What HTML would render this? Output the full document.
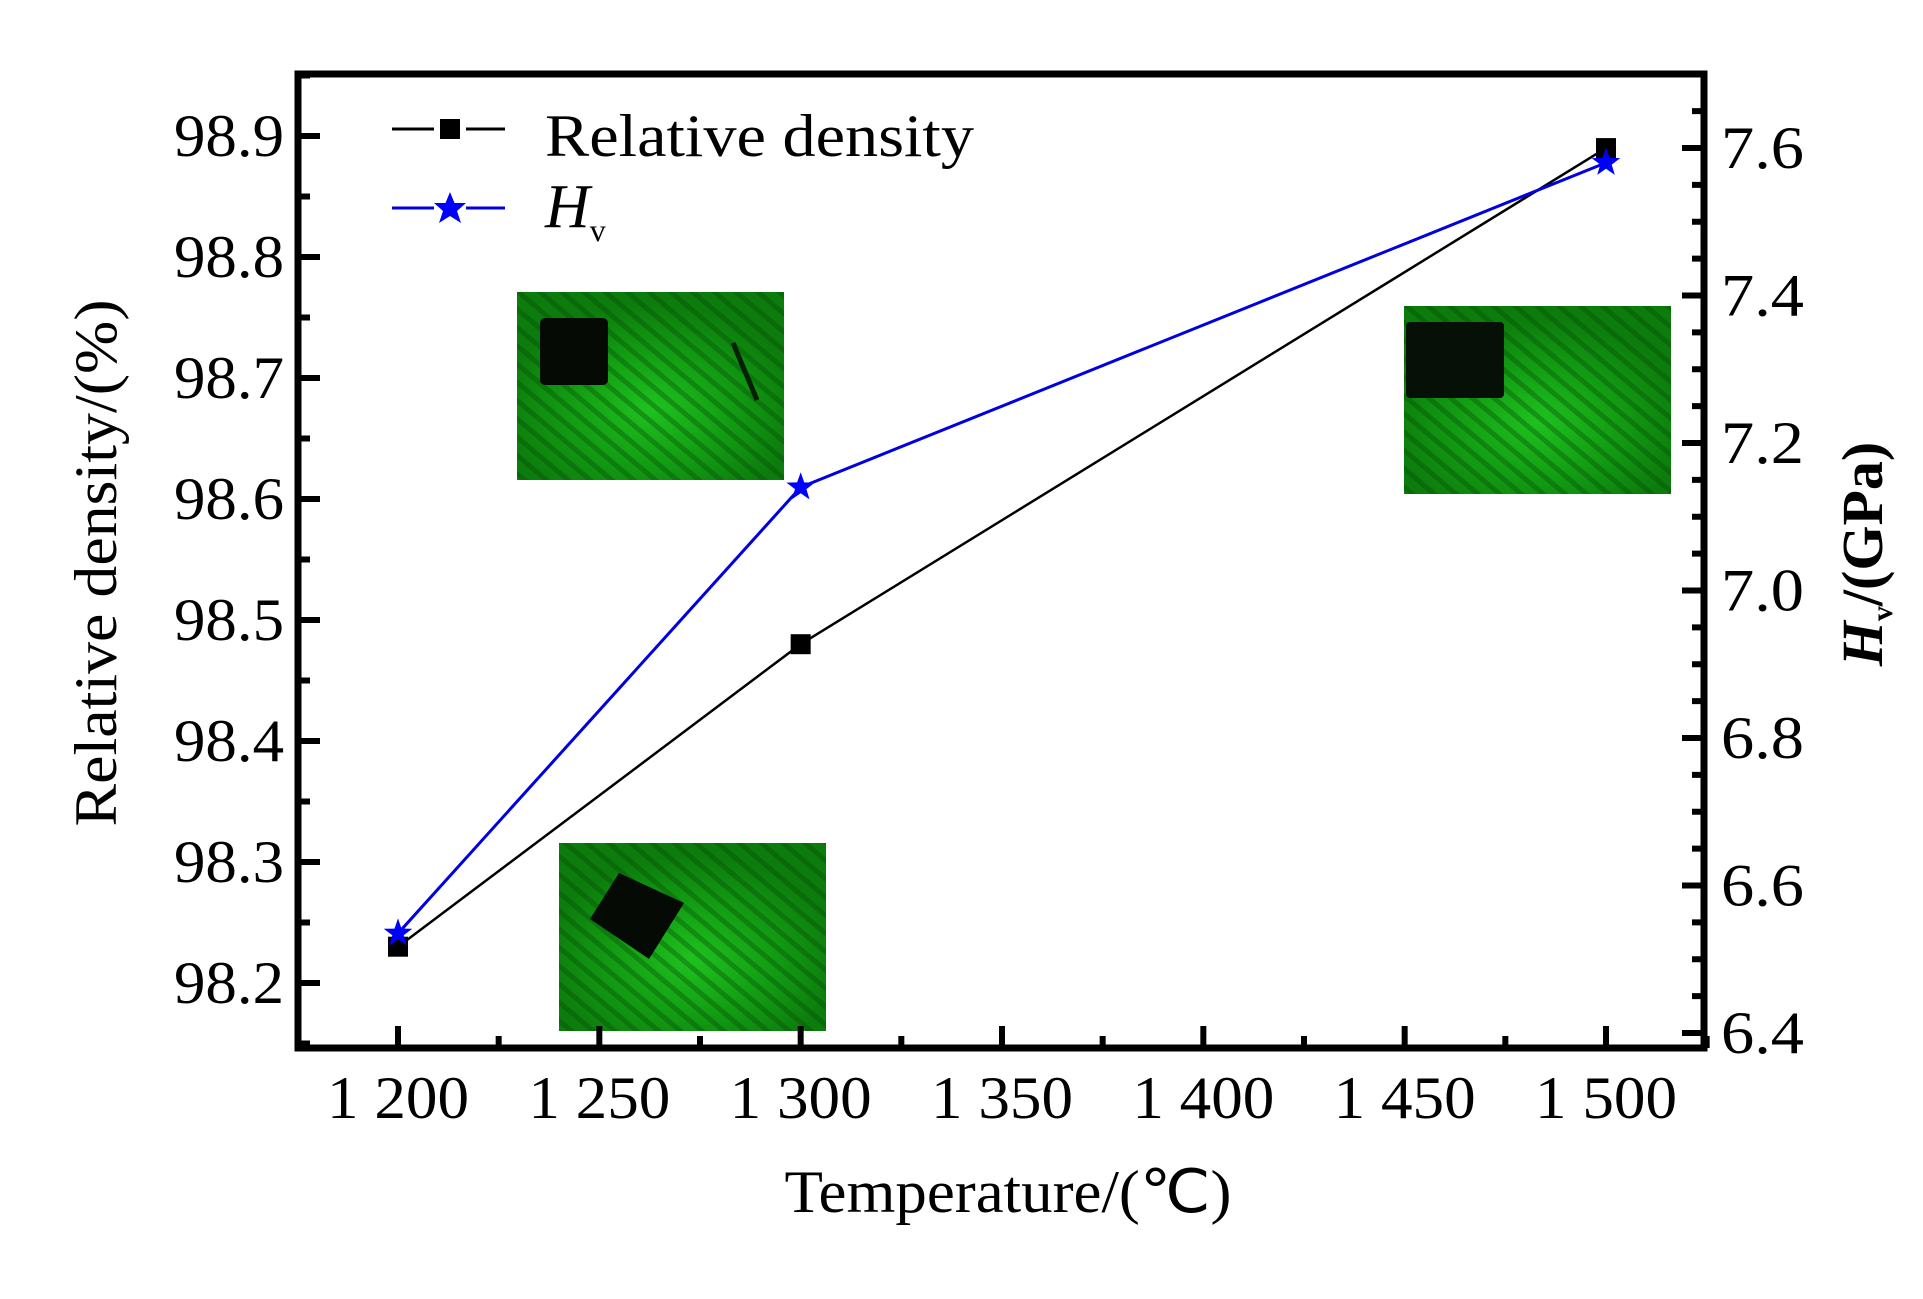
<!DOCTYPE html>
<html><head><meta charset="utf-8"><style>
html,body{margin:0;padding:0;background:#fff;}
svg{display:block;font-family:"Liberation Serif",serif;}
</style></head><body>
<svg id="chart" width="1923" height="1299" viewBox="0 0 1923 1299" xmlns="http://www.w3.org/2000/svg">
<defs>
<radialGradient id="glow" cx="0.5" cy="0.62" r="0.55">
<stop offset="0" stop-color="#1fc21f"/><stop offset="0.5" stop-color="#13a013"/><stop offset="1" stop-color="#0c7d0c"/>
</radialGradient>
<pattern id="tex" width="14" height="14" patternUnits="userSpaceOnUse" patternTransform="rotate(40)">
<rect width="14" height="14" fill="none"/><rect width="14" height="5" fill="#064806" opacity="0.35"/>
</pattern>
</defs>
<g id="insets"></g>
<g id="axes"></g>
<g id="series"></g>
<g id="legend">
<line x1="392" y1="129" x2="434" y2="129" stroke="#000" stroke-width="3"/>
<line x1="466" y1="129" x2="505" y2="129" stroke="#000" stroke-width="3"/>
<rect x="440" y="119" width="20" height="20" fill="#000"/>
<text x="545" y="156" font-size="60" textLength="429" lengthAdjust="spacingAndGlyphs">Relative density</text>
<line x1="392" y1="208" x2="434" y2="208" stroke="#0000e0" stroke-width="3"/>
<line x1="466" y1="208" x2="505" y2="208" stroke="#0000e0" stroke-width="3"/>
<polygon points="450,192 454.5,203 466,203 457,211 461,223 450,216 439,223 443,211 434,203 445.5,203" fill="#0000ff"/>
<text x="545" y="227" font-size="62" font-style="italic">H<tspan font-size="32" font-style="normal" dy="14">v</tspan></text>
</g>
<text x="1008" y="1212" font-size="60" text-anchor="middle" textLength="447" lengthAdjust="spacingAndGlyphs">Temperature/(℃)</text>
<text transform="translate(116,563) rotate(-90)" font-size="60" text-anchor="middle" textLength="527" lengthAdjust="spacingAndGlyphs">Relative density/(%)</text>
<text transform="translate(1882,554) rotate(-90)" font-size="58" font-weight="bold" text-anchor="middle"><tspan font-style="italic">H</tspan><tspan font-size="30" dy="10">v</tspan><tspan dy="-10">/(GPa)</tspan></text>
</svg>
<script>
const temps=[1200,1300,1500];
const density=[98.23,98.48,98.89];
const hardness=[6.535,7.14,7.58];
const xTicks=[1200,1250,1300,1350,1400,1450,1500];
const xTickLabels=["1 200","1 250","1 300","1 350","1 400","1 450","1 500"];
const yLeftTicks=[98.2,98.3,98.4,98.5,98.6,98.7,98.8,98.9];
const yRightTicks=[6.4,6.6,6.8,7.0,7.2,7.4,7.6];

const NS="http://www.w3.org/2000/svg";
const L=298,R=1704,T=74,B=1048;
const x=v=>398+(v-1200)*(1606-398)/300;
const yl=v=>136+(98.9-v)*121/0.1;
const yr=v=>1033-(v-6.4)*885/1.2;
function mk(tag,attrs,parent){const e=document.createElementNS(NS,tag);for(const k in attrs)e.setAttribute(k,attrs[k]);parent.appendChild(e);return e;}

const ins=document.getElementById('insets');
const insetBoxes=[[517,292,267,188,'inset-1300'],[1404,306,267,188,'inset-1500'],[559,843,267,188,'inset-1200']];
insetBoxes.forEach(b=>{
 const g=mk('g',{},ins);
 
 
 mk('rect',{x:b[0],y:b[1],width:b[2],height:b[3],fill:'url(#glow)'},g);
 mk('rect',{x:b[0],y:b[1],width:b[2],height:b[3],fill:'url(#tex)'},g);
});
mk('rect',{x:540,y:318,width:68,height:67,rx:5,fill:'#050a05'},ins);
mk('line',{x1:733,y1:343,x2:757,y2:400,stroke:'#062006','stroke-width':5},ins);
mk('rect',{x:1406,y:322,width:98,height:76,rx:4,fill:'#061006'},ins);
mk('polygon',{points:'619,873 684,903 649,959 590,919',fill:'#050a05'},ins);

const ax=document.getElementById('axes');
const frame=mk('rect',{x:L,y:T,width:R-L,height:B-T,fill:'none',stroke:'#000','stroke-width':7},ax);


for(let v=1200;v<=1525;v+=25){const X=x(v);const maj=(v%50===0);mk('line',{x1:X,y1:B,x2:X,y2:B-(maj?22:12),stroke:'#000','stroke-width':6},ax);}
for(let v=98.15;v<=98.951;v+=0.05){const Y=yl(v);const maj=Math.abs(Math.round(v*10)-v*10)<1e-6;mk('line',{x1:L,y1:Y,x2:L+(maj?22:12),y2:Y,stroke:'#000','stroke-width':6},ax);}
for(let v=6.4;v<=7.701;v+=0.05){const Y=yr(v);const maj=Math.abs(Math.round(v*5)-v*5)<1e-6;mk('line',{x1:R,y1:Y,x2:R-(maj?22:12),y2:Y,stroke:'#000','stroke-width':6},ax);}
xTicks.forEach((v,i)=>{const t=mk('text',{x:x(v),y:1118,'font-size':60,'text-anchor':'middle',textLength:142,lengthAdjust:'spacingAndGlyphs'},ax);t.textContent=xTickLabels[i];
 
 });
yLeftTicks.forEach(v=>{const t=mk('text',{x:284,y:yl(v)+20,'font-size':60,'text-anchor':'end',textLength:110,lengthAdjust:'spacingAndGlyphs'},ax);t.textContent=v.toFixed(1);
 
 });
yRightTicks.forEach(v=>{const t=mk('text',{x:1721,y:yr(v)+20,'font-size':60,textLength:83,lengthAdjust:'spacingAndGlyphs'},ax);t.textContent=v.toFixed(1);
 
 });

const s=document.getElementById('series');
const dl=mk('polyline',{points:temps.map((t,i)=>x(t)+','+yl(density[i])).join(' '),fill:'none',stroke:'#000','stroke-width':2.5},s);


const hl=mk('polyline',{points:temps.map((t,i)=>x(t)+','+yr(hardness[i])).join(' '),fill:'none',stroke:'#0000e0','stroke-width':3},s);


temps.forEach((t,i)=>{
 const r=mk('rect',{x:x(t)-10,y:yl(density[i])-10,width:20,height:20,fill:'#000'},s);
 
 
 const cx=x(t),cy=yr(hardness[i]);let pts=[];
 for(let k=0;k<10;k++){const a=-Math.PI/2+k*Math.PI/5;const rr=k%2?6:15;pts.push((cx+rr*Math.cos(a)).toFixed(1)+','+(cy+rr*Math.sin(a)).toFixed(1));}
 const p=mk('polygon',{points:pts.join(' '),fill:'#0000ff'},s);
 
 
});
</script>
</body></html>
